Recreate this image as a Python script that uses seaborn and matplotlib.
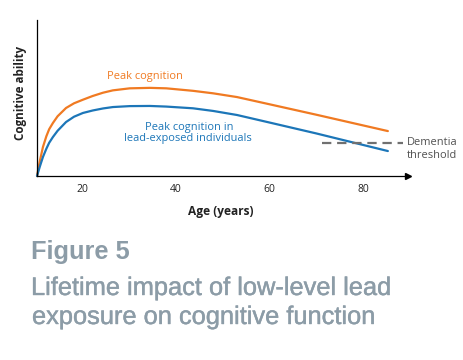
import matplotlib
matplotlib.use("Agg")
import matplotlib.pyplot as plt
import matplotlib.patheffects as pe
import seaborn as sns
import pandas as pd

# ---- data ----
ages = [10.4, 11.0, 11.67, 12.4, 13.0, 13.8, 14.8, 16.6, 18.3, 20.2, 22.3,
        24.5, 26.6, 30.2, 34.5, 38.0, 43.7, 48.0, 53.1, 60.0, 70.0, 85.3]
peak_cognition = [0, 9.5, 18.6, 25.5, 30.0, 34.0, 38.3, 43.6, 46.6, 48.9, 51.3,
                  53.4, 54.9, 56.2, 56.5, 56.2, 54.6, 53.0, 50.6, 46.0, 39.3, 28.8]
lead_cognition = [0, 6.0, 12.2, 17.5, 21.3, 25.0, 29.0, 34.6, 38.0, 40.4, 42.0,
                  43.3, 44.2, 44.8, 44.9, 44.5, 43.4, 41.7, 39.1, 34.3, 27.3, 16.0]
threshold_ages = [71.2, 88.5]
threshold_value = 21.2
x_ticks = [20, 40, 60, 80]

series_names = ["Peak cognition", "Peak cognition in lead-exposed individuals"]
label_lines_lead = ["Peak cognition in", "lead-exposed individuals"]
threshold_lines = ["Dementia", "threshold"]
colors = {series_names[0]: "#F07A22", series_names[1]: "#1C76B8"}

df = pd.DataFrame({
    "age": ages + ages,
    "value": peak_cognition + lead_cognition,
    "series": [series_names[0]] * len(ages) + [series_names[1]] * len(ages),
})

sns.set_style("white")
plt.rcParams["font.family"] = ["Open Sans", "DejaVu Sans"]

W, H = 463, 360
fig = plt.figure(figsize=(W / 100, H / 100), dpi=100)
ax = fig.add_axes([37 / W, 1 - 176 / H, (408 - 37) / W, 156 / H])


def fy(py):
    return 1 - py / H


sns.lineplot(data=df, x="age", y="value", hue="series", palette=colors,
             linewidth=1.6, legend=False, ax=ax, estimator=None, sort=False)
for line in ax.lines:
    line.set_clip_on(False)
    line.set_solid_joinstyle("round")

ax.plot(threshold_ages, [threshold_value] * 2, color="#707070", lw=1.6,
        dashes=(4.2, 2.6))

ax.set_xlim(10.4, 89.6)
ax.set_ylim(0, 100)
ax.set_xticks(x_ticks)
ax.set_xticklabels([str(t) for t in x_ticks])
ax.set_yticks([])
ax.tick_params(axis="x", direction="in", length=3.5, width=0.8, colors="black",
               labelsize=7.5, pad=6, labelcolor="#222222")
for s in ["top", "right"]:
    ax.spines[s].set_visible(False)
for s in ["left", "bottom"]:
    ax.spines[s].set_color("black")
    ax.spines[s].set_linewidth(0.9)
ax.plot(1, 0, marker=">", color="black", markersize=4, transform=ax.transAxes,
        clip_on=False)

ax.set_xlabel("")
ax.set_ylabel("")
fig.text(221 / W, fy(212), "Age (years)", ha="center", va="center",
         fontsize=8.6, fontweight="bold", color="#222222")
fig.text(21 / W, fy(93), "Cognitive ability", ha="center", va="center",
         rotation=90, fontsize=8.4, fontweight="bold", color="#222222")

fig.text(145 / W, fy(76), series_names[0], color=colors[series_names[0]],
         fontsize=7.9, ha="center", va="center")
fig.text(189 / W, fy(127), label_lines_lead[0], color=colors[series_names[1]],
         fontsize=7.9, ha="center", va="center")
fig.text(188 / W, fy(138.5), label_lines_lead[1], color=colors[series_names[1]],
         fontsize=7.9, ha="center", va="center")
fig.text(407 / W, fy(143), threshold_lines[0], color="#505050",
         fontsize=7.9, ha="left", va="center")
fig.text(407 / W, fy(155), threshold_lines[1], color="#505050",
         fontsize=7.9, ha="left", va="center")

title_color = "#8C9CA7"
title_kw = dict(ha="left", va="center", fontsize=18.3, color=title_color,
                family=["Liberation Sans", "DejaVu Sans"])
fig.text(31 / W, fy(252), "Figure 5", fontweight="bold", **title_kw)
sub_fx = [pe.withStroke(linewidth=0.3, foreground=title_color)]
fig.text(31 / W, fy(288), "Lifetime impact of low-level lead",
         path_effects=sub_fx, **title_kw)
fig.text(32 / W, fy(317), "exposure on cognitive function",
         path_effects=sub_fx, **title_kw)

fig.savefig("out.png", dpi=100, facecolor="white")
